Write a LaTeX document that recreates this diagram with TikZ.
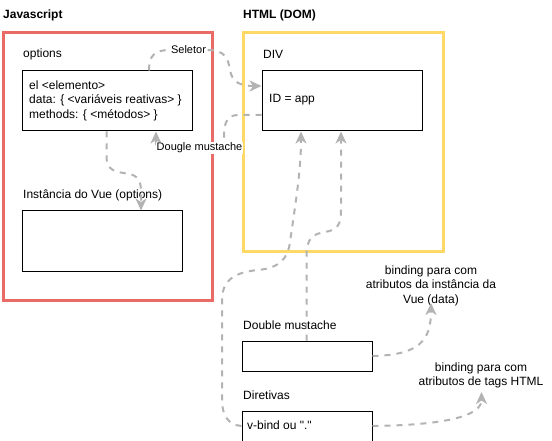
\documentclass[tikz,border=0pt]{standalone}
\usepackage{fontspec}
\setmainfont{Liberation Sans}
\usetikzlibrary{arrows.meta}
\definecolor{jsred}{HTML}{EA6B66}
\definecolor{domyel}{HTML}{FFD966}
\definecolor{conn}{HTML}{B3B3B3}
\newcommand{\sq}{\XeTeXglyph\the\XeTeXcharglyph"22\relax}
\begin{document}
\begin{tikzpicture}[x=1pt,y=-1pt,
  txt/.style={anchor=west, inner sep=0pt, font=\fontsize{12}{14.4}\selectfont},
  ttl/.style={txt, font=\fontsize{12}{14.4}\selectfont\bfseries},
  frame/.style={draw, line width=3pt, anchor=north west, inner sep=0pt},
  box/.style={draw=black, line width=1pt, anchor=north west, inner sep=0pt},
  conn/.style={draw=conn, line width=2pt, dash pattern=on 6pt off 6pt,
    -{Stealth[length=12pt,width=11pt,inset=3.5pt]}},
  elbl/.style={fill=white, inner sep=1pt, font=\fontsize{11}{13}\selectfont},
  ctr/.style={align=center, inner sep=0pt, font=\fontsize{12}{14.5}\selectfont}]
\useasboundingbox (0,0) rectangle (552,441);
\fill[white] (0,0) rectangle (552,441);

% frames
\node[frame, draw=jsred, minimum width=209.5pt, minimum height=268pt] (js) at (1.5,31) {};
\node[frame, draw=domyel, minimum width=199.5pt, minimum height=218.5pt] (dom) at (242,31) {};
\node[ttl] (jst) at (3,15) {Javascript};
\node[ttl] (domt) at (243,15) {HTML (DOM)};

% javascript side
\node[txt] (optt) at (23,54) {options};
\node[box, minimum width=170pt, minimum height=60pt] (opt) at (21.5,70.5) {};
\node[txt, align=left] (optx) at (29,100.5) {el <elemento>\\data: \{ <variáveis reativas> \}\\methods: \{ <métodos> \}};
\node[txt] (vuet) at (23,195) {Instância do Vue (options)};
\node[box, minimum width=160pt, minimum height=60pt] (vue) at (21.5,210.5) {};

% dom side
\node[txt] (divt) at (263,54) {DIV};
\node[box, minimum width=160pt, minimum height=60pt] (div) at (261.5,70.5) {};
\node[txt] (idx) at (269,100) {ID = app};

% lower
\node[txt] (dmt) at (243,325) {Double mustache};
\node[box, minimum width=130pt, minimum height=30pt] (dm) at (241.5,340.5) {};
\node[txt] (dirt) at (243,395) {Diretivas};
\node[box, minimum width=130pt, minimum height=30pt] (dir) at (241.5,410.5) {};
\node[txt] (dirx) at (247,425) {v-bind ou \sq.\sq};

\node[ctr] (b1) at (431,285.5) {binding para com\\atributos da instância da\\Vue (data)};
\node[ctr] (b2) at (481,375.5) {binding para com\\atributos de tags HTML};

% connectors
\coordinate (b1tip) at (431,303);
\coordinate (b2tip) at (481.5,392);

% Seletor
\draw[conn] (opt.north west -| 149,0) .. controls (149,55) and (155,50) .. (170,50)
  -- (207,50) .. controls (225,50) and (228,58) .. (230,70)
  .. controls (232,82) and (240,86) .. (div.north west |- 0,86);
\node[elbl] (sel) at (188.5,49.5) {Seletor};

% Dougle mustache
\draw[conn] (div.north west |- 0,115) -- (238,115) .. controls (228,115) and (224,122) .. (224,135)
  -- (224,148) -- (162,148) .. controls (157,148) and (156,146) .. (156,141)
  -- (opt.south west -| 156,0);
\node[elbl] (dgl) at (199.5,148) {Dougle mustache};

% options -> Vue instance
\draw[conn] (opt.south west -| 106.5,0) -- (106.5,157) .. controls (106.5,170) and (115,172) .. (127,173.5)
  .. controls (138,175) and (141,181) .. (141,192) -- (vue.north west -| 141,0);

% Double mustache -> DIV
\draw[conn] (dm.north west -| 306.5,0) -- (306.5,256) .. controls (306.5,238) and (313,234) .. (325,232)
  .. controls (338,230) and (341,224) .. (341,210) -- (div.south west -| 341,0);

% Diretivas -> DIV
\draw[conn] (dir.west) .. controls (228,425) and (222,415) .. (222,400) -- (222,300)
  .. controls (222,278) and (238,272) .. (258,270) .. controls (280,268) and (288,258) .. (290,242)
  .. controls (296,200) and (301,170) .. (div.south west -| 301,0);

% Double mustache -> binding 1
\draw[conn] (dm.east) .. controls (420,355) and (431,340) .. (b1tip);

% Diretivas -> binding 2
\draw[conn] (dir.east) .. controls (450,425) and (481.5,415) .. (b2tip);
\end{tikzpicture}
\end{document}
